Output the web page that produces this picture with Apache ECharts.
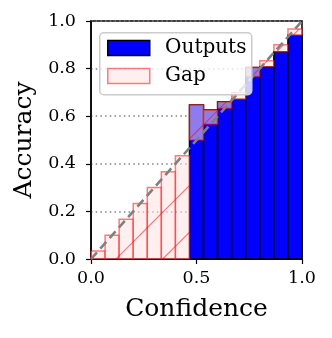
<!DOCTYPE html>
<head>
    <meta charset="utf-8"/>
    <style>
        html, body { margin: 0; padding: 0; background: #fff; }
        #main { width: 332px; height: 338px; }
    </style>
    <script src="https://cdn.jsdelivr.net/npm/echarts@6/dist/echarts.min.js"></script>
</head>
<body>
<div id="main"></div>
<script type="text/javascript">
 // 15 confidence bins
 var binEdges = [0, 0.0667, 0.1333, 0.2, 0.2667, 0.3333, 0.4, 0.4667, 0.5333, 0.6, 0.6667, 0.7333, 0.8, 0.8667, 0.9333, 1.0];
 var binMiddles = [0.0333, 0.1, 0.1667, 0.2333, 0.3, 0.3667, 0.4333, 0.5, 0.5667, 0.6333, 0.7, 0.7667, 0.8333, 0.9, 0.9667];
 var accuracy = [0, 0, 0, 0, 0, 0, 0, 0.647, 0.626, 0.661, 0.671, 0.805, 0.808, 0.871, 0.94];
 var diagonal = [[0, 0], [1, 1]];
 var xTicks = [0, 0.5, 1.0];
 var yTicks = [0, 0.2, 0.4, 0.6, 0.8, 1.0];

 var font = 'DejaVu Serif';
 var gapFill = 'rgba(255,225,225,0.55)';
 var gapEdge = 'rgba(255,0,0,0.5)';

 var outputData = accuracy.map(function (a, i) { return [binEdges[i], binEdges[i + 1], 0, a]; });
 var gapData = accuracy.map(function (a, i) { return [binEdges[i], binEdges[i + 1], a, binMiddles[i]]; });

 function rectOf(api) {
     var p0 = api.coord([api.value(0), api.value(2)]);
     var p1 = api.coord([api.value(1), api.value(3)]);
     return {x: p0[0], y: Math.min(p0[1], p1[1]), width: p1[0] - p0[0], height: Math.abs(p1[1] - p0[1])};
 }

 function renderOutput(params, api) {
     return {type: 'rect', shape: rectOf(api),
             style: {fill: '#0000ff', stroke: '#000', lineWidth: 1.5}};
 }

 // gap bar with "/" hatch (lines x+y=c in screen space)
 function renderGap(params, api) {
     var r = rectOf(api);
     var kids = [{type: 'rect', shape: r, style: {fill: gapFill, stroke: null}}];
     var x0 = r.x, x1 = r.x + r.width, y0 = r.y, y1 = r.y + r.height;
     for (var c = 375 - 46.75 * 8; c < 700; c += 46.75) {
         var lo = Math.max(x0, c - y1), hi = Math.min(x1, c - y0);
         if (hi > lo) {
             kids.push({type: 'line', shape: {x1: lo, y1: c - lo, x2: hi, y2: c - hi},
                        style: {stroke: gapEdge, lineWidth: 1.2}});
         }
     }
     kids.push({type: 'rect', shape: r, style: {fill: null, stroke: gapEdge, lineWidth: 1.5}});
     return {type: 'group', children: kids};
 }

 var myChart = echarts.init(document.getElementById('main'));
 var options = {
     animation: false,
     grid: {left: 91, right: 30, top: 21, bottom: 79, show: true,
            borderColor: '#000', borderWidth: 1.5, backgroundColor: 'transparent'},
     // legend frame
     graphic: [{
         type: 'rect', left: 99, top: 32, z: 6,
         shape: {width: 152, height: 62, r: 4},
         style: {fill: 'rgba(255,255,255,0.8)', stroke: '#cccccc', lineWidth: 1.5}
     }],
     legend: {
         orient: 'vertical', left: 99, top: 32, z: 7,
         padding: [6, 8, 4, 8],
         itemWidth: 42, itemHeight: 15, itemGap: 8,
         formatter: function (name) { return ' \u2009' + name; },
         textStyle: {fontFamily: font, fontSize: 20, color: '#000'},
         data: [
             {name: 'Outputs', icon: 'rect', itemStyle: {color: '#0000ff', borderColor: '#000', borderWidth: 1.5}},
             {name: 'Gap', icon: 'rect', itemStyle: {color: gapFill, borderColor: gapEdge, borderWidth: 1.5}}
         ]
     },
     xAxis: {
         type: 'value', min: 0, max: 1, interval: 0.5,
         name: 'Confidence', nameLocation: 'middle', nameGap: 38,
         nameTextStyle: {fontFamily: font, fontSize: 25, color: '#000'},
         axisLine: {onZero: false, lineStyle: {color: '#000', width: 1.5}},
         axisTick: {show: true, length: 5, lineStyle: {color: '#000', width: 1.2}},
         axisLabel: {margin: 10, fontFamily: font, fontSize: 17.5, color: '#000',
                     formatter: function (v) { return xTicks.indexOf(v) >= 0 ? v.toFixed(1) : ''; }},
         splitLine: {show: false}
     },
     yAxis: {
         type: 'value', min: 0, max: 1, interval: 0.2,
         name: 'Accuracy', nameLocation: 'middle', nameGap: 54,
         nameTextStyle: {fontFamily: font, fontSize: 25, color: '#000'},
         axisLine: {show: true, lineStyle: {color: '#000', width: 1.5}},
         axisTick: {show: true, length: 5, lineStyle: {color: '#000', width: 1.2}},
         axisLabel: {margin: 15, fontFamily: font, fontSize: 17.5, color: '#000',
                     formatter: function (v) { return yTicks.indexOf(+v.toFixed(1)) >= 0 ? v.toFixed(1) : ''; }},
         splitLine: {show: true, lineStyle: {color: '#808080', width: 1.5, type: [1.5, 3.2]}}
     },
     series: [
         {name: 'Outputs', type: 'custom', renderItem: renderOutput, data: outputData,
          encode: {x: [0, 1], y: [2, 3]}, itemStyle: {color: '#0000ff'}, z: 2},
         {name: 'Gap', type: 'custom', renderItem: renderGap, data: gapData,
          encode: {x: [0, 1], y: [2, 3]}, itemStyle: {color: gapFill}, z: 3},
         {name: 'diag', type: 'line', data: diagonal, symbol: 'none', z: 5,
          lineStyle: {color: '#808080', width: 2.6, type: [9, 5]}}
     ]
 };
 myChart.setOption(options);
</script>
</body>
